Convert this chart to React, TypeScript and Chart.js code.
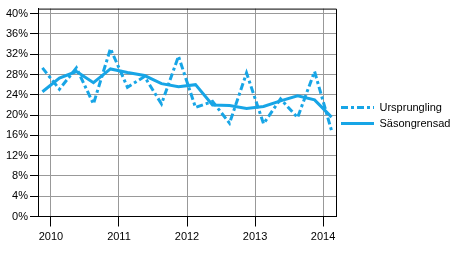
import React, { useEffect, useRef } from "react";
import { Chart, registerables } from "chart.js";

Chart.register(...registerables);

// Quarters (Q4 2009 – Q1 2014)
const quarters = [
  "2009Q4",
  "2010Q1", "2010Q2", "2010Q3", "2010Q4",
  "2011Q1", "2011Q2", "2011Q3", "2011Q4",
  "2012Q1", "2012Q2", "2012Q3", "2012Q4",
  "2013Q1", "2013Q2", "2013Q3", "2013Q4",
  "2014Q1",
];

const ursprungling = [
  29.3,
  25.1, 29.3, 22.2, 33.1,
  25.5, 27.6, 22.2, 31.6,
  21.5, 22.7, 18.4, 28.3,
  18.3, 23.2, 19.5, 28.6,
  16.9,
];

const sasongrensad = [
  24.6,
  27.3, 28.6, 26.4, 29.1,
  28.4, 27.8, 26.2, 25.6,
  26.0, 22.0, 21.9, 21.3,
  21.7, 22.8, 23.8, 23.0,
  19.6,
];

const yearTicks = [2010, 2011, 2012, 2013, 2014];
const percentTicks = [0, 4, 8, 12, 16, 20, 24, 28, 32, 36, 40];

const LINE_COLOR = "#17a5e6";
const GRID_COLOR = "#999999";
const DASH = [7, 3, 3, 3];
const FONT = "'Liberation Sans', Arial, sans-serif";

const quarterToX = (q: string) => {
  const year = parseInt(q.slice(0, 4), 10);
  const qi = parseInt(q.slice(5), 10);
  return year + (qi - 1) * 0.25 + 0.125;
};

const makeLegendLine = (dash: number[]) => {
  const c = document.createElement("canvas");
  c.width = 33;
  c.height = 3;
  const ctx = c.getContext("2d")!;
  ctx.strokeStyle = LINE_COLOR;
  ctx.lineWidth = 3;
  ctx.setLineDash(dash);
  ctx.beginPath();
  ctx.moveTo(0, 1.5);
  ctx.lineTo(33, 1.5);
  ctx.stroke();
  return c;
};

const frame = {
  id: "frame",
  afterDatasetsDraw(chart: any) {
    const { ctx, chartArea } = chart;
    ctx.save();
    ctx.strokeStyle = "#000";
    ctx.lineWidth = 1;
    ctx.beginPath();
    ctx.moveTo(chartArea.left, chartArea.top + 0.5);
    ctx.lineTo(chartArea.right + 0.5, chartArea.top + 0.5);
    ctx.lineTo(chartArea.right + 0.5, chartArea.bottom);
    ctx.stroke();
    ctx.restore();
  },
};

const legendShift = {
  id: "legendShift",
  afterLayout(chart: any) {
    const lg = chart.legend;
    if (lg) {
      lg.top += 3;
      lg.bottom += 3;
    }
  },
};

export default function App() {
  const ref = useRef<HTMLCanvasElement | null>(null);

  useEffect(() => {
    if (!ref.current) return;
    const chart = new Chart(ref.current, {
      type: "line",
      data: {
        datasets: [
          {
            label: "Ursprungling",
            data: quarters.map((q, i) => ({ x: quarterToX(q), y: ursprungling[i] })),
            borderColor: LINE_COLOR,
            backgroundColor: LINE_COLOR,
            borderWidth: 3,
            borderDash: DASH,
            pointRadius: 0,
            pointStyle: makeLegendLine(DASH),
            tension: 0,
            order: 1,
          },
          {
            label: "Säsongrensad",
            data: quarters.map((q, i) => ({ x: quarterToX(q), y: sasongrensad[i] })),
            borderColor: LINE_COLOR,
            backgroundColor: LINE_COLOR,
            borderWidth: 3,
            pointRadius: 0,
            pointStyle: makeLegendLine([]),
            tension: 0,
            order: 0,
          },
        ],
      },
      options: {
        animation: false,
        responsive: true,
        maintainAspectRatio: false,
        layout: { padding: { top: 7, left: 0, bottom: 0, right: 0 } },
        font: { family: FONT, size: 11 },
        scales: {
          x: {
            type: "linear",
            min: 2009.81,
            max: 2014.19,
            afterBuildTicks: (s: any) => {
              s.ticks = yearTicks.map((v) => ({ value: v }));
            },
            afterFit: (s: any) => {
              s.height = 36.5;
            },
            ticks: {
              color: "#000",
              padding: 4,
              maxRotation: 0,
              font: { family: FONT, size: 11 },
              callback: (v: any) => String(v),
            },
            grid: { color: GRID_COLOR, tickColor: "#000", tickLength: 10, lineWidth: 1 },
            border: { color: "#000", width: 1 },
          },
          y: {
            type: "linear",
            min: 0,
            max: 41,
            afterBuildTicks: (s: any) => {
              s.ticks = percentTicks.map((v) => ({ value: v }));
            },
            afterFit: (s: any) => {
              s.width = 38;
            },
            ticks: {
              color: "#000",
              padding: 2,
              font: { family: FONT, size: 11 },
              callback: (v: any) => v + "%",
            },
            grid: { color: GRID_COLOR, tickColor: "#000", tickLength: 8, lineWidth: 1 },
            border: { color: "#000", width: 1 },
          },
        },
        plugins: {
          tooltip: { enabled: false },
          legend: {
            position: "right",
            maxWidth: 118,
            fullSize: false,
            labels: {
              usePointStyle: true,
              pointStyleWidth: 33,
              padding: 5,
              color: "#000",
              font: { family: FONT, size: 11 },
              sort: (a: any, b: any) => a.datasetIndex - b.datasetIndex,
            },
          },
        },
      },
      plugins: [frame, legendShift],
    } as any);
    return () => chart.destroy();
  }, []);

  return (
    <div style={{ position: "absolute", left: 0, top: 0, width: 454, height: 253, background: "#fff" }}>
      <canvas ref={ref} />
    </div>
  );
}
